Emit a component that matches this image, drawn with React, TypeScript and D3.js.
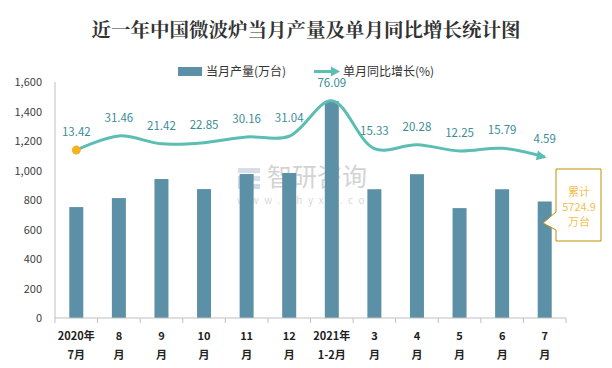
import React from "react";
import * as d3 from "d3";

// categories (two-line x labels)
const labelTop = ["2020年", "8", "9", "10", "11", "12", "2021年", "3", "4", "5", "6", "7"];
const labelBottom = ["7月", "月", "月", "月", "月", "月", "1-2月", "月", "月", "月", "月", "月"];
// 当月产量(万台)
const output = [752, 813, 942, 874, 976, 983, 1470, 873, 975, 745, 873, 790];
// 单月同比增长(%)
const growth = [13.42, 31.46, 21.42, 22.85, 30.16, 31.04, 76.09, 15.33, 20.28, 12.25, 15.79, 4.59];
const yTicks = [0, 200, 400, 600, 800, 1000, 1200, 1400, 1600];

const W = 612;
const H = 368;
const left = 55;
const right = 566;
const top = 82;
const bottom = 318;

const barColor = "#5b90a6";
const lineColor = "#5cbdb3";
const labelColor = "#3b8d98";
const font = "'Noto Sans CJK SC', 'Noto Sans', sans-serif";

export default function App() {
  const cats = labelTop.map((_, i) => String(i));
  const x = d3.scaleBand().domain(cats).range([left, right]).padding(0);
  const y = d3.scaleLinear().domain([0, 1600]).range([bottom, top]);
  const y2 = d3.scaleLinear().domain([-200, 100]).range([bottom, top]);
  const cx = (i: number) => (x(String(i)) as number) + x.bandwidth() / 2;
  const barW = 14;

  const line = d3
    .line<number>()
    .x((_, i) => cx(i))
    .y((d) => y2(d))
    .curve(d3.curveCatmullRom.alpha(0.5));

  const n = growth.length;
  const lx = cx(n - 1);
  const ly = y2(growth[n - 1]);
  // arrow direction from a point just before the end
  const ang = Math.atan2(ly - (y2(growth[n - 2]) * 0.4 + ly * 0.6), lx - (cx(n - 2) * 0.4 + lx * 0.6));

  return (
    <div style={{ margin: -8 }}>
      <svg width={W} height={H} style={{ display: "block", fontFamily: font }}>
        <rect x={0} y={0} width={W} height={H} fill="#fff" />
        <rect x={3.5} y={2.5} width={605} height={360} fill="none" stroke="#bfbfbf" strokeWidth={1} />

        <text x={306} y={37} textAnchor="middle" fontSize={19.5} fontWeight="bold" fill="#333"
          style={{ fontFamily: "'Noto Serif CJK SC', 'Noto Sans CJK SC', serif" }}>
          近一年中国微波炉当月产量及单月同比增长统计图
        </text>

        {/* legend */}
        <rect x={178} y={67} width={24} height={9} fill={barColor} />
        <text x={206} y={75.5} fontSize={12} fill="#333">当月产量(万台)</text>
        <line x1={314} y1={71.5} x2={333} y2={71.5} stroke={lineColor} strokeWidth={3} />
        <path d="M331,66.5 L340,71.5 L331,76.5 Z" fill={lineColor} />
        <text x={343} y={75.5} fontSize={12} fill="#333">单月同比增长(%)</text>

        {/* watermark */}
        <g opacity={0.55}>
          <rect x={238} y={168} width={22} height={5} fill="#b4c4dc" />
          <rect x={238} y={176} width={10} height={13} fill="#a8bcd8" />
          <rect x={252} y={176} width={8} height={5} fill="#b4c4dc" />
          <rect x={250} y={184} width={10} height={5} fill="#a8bcd8" />
          <text x={267} y={186} fontSize={25} fill="#b0b0b0">智研咨询</text>
          <text x={237} y={204} fontSize={10} fill="#b8b8b8" letterSpacing={5.6}>www.chyxx.com</text>
        </g>

        {/* y axis */}
        {yTicks.map((t) => (
          <text key={t} x={42} y={y(t) + 4} textAnchor="end" fontSize={11} fill="#404040">
            {d3.format(",")(t)}
          </text>
        ))}
        <line x1={left} y1={top} x2={left} y2={bottom} stroke="#bfbfbf" />

        {/* bars */}
        {output.map((v, i) => (
          <rect key={i} x={cx(i) - barW / 2} y={y(v)} width={barW} height={bottom - y(v)} fill={barColor} />
        ))}

        {/* x axis */}
        <line x1={left} y1={bottom} x2={right} y2={bottom} stroke="#bfbfbf" />
        {cats.concat([String(n)]).map((c, i) => {
          const px = i < n ? (x(c) as number) : right;
          return <line key={c} x1={px} y1={bottom} x2={px} y2={bottom + 5} stroke="#bfbfbf" />;
        })}
        {labelTop.map((t, i) => (
          <g key={i} fontSize={11} fontWeight="bold" fill="#222" textAnchor="middle">
            <text x={cx(i)} y={340}>{t}</text>
            <text x={cx(i)} y={359}>{labelBottom[i]}</text>
          </g>
        ))}

        {/* growth line */}
        <path d={line(growth) || ""} fill="none" stroke={lineColor} strokeWidth={3} />
        <path
          d="M-8,-5 L2,0 L-8,5 Z"
          fill={lineColor}
          transform={`translate(${lx},${ly}) rotate(${(ang * 180) / Math.PI})`}
        />
        <circle cx={cx(0)} cy={y2(growth[0])} r={4.5} fill="#f5b324" />
        {growth.map((g, i) => (
          <text key={i} x={cx(i)} y={y2(g) - 14} textAnchor="middle" fontSize={11.5} fill={labelColor}>
            {g.toFixed(2)}
          </text>
        ))}

        {/* cumulative callout */}
        <path
          d="M556,169 L601,169 L601,241 L556,241 L556,230 L543,223 L556,212 Z"
          fill="#fff"
          stroke="#bf9000"
          strokeWidth={1}
        />
        <g fontSize={11} fill="#f2c14e" textAnchor="middle">
          <text x={579} y={196}>累计</text>
          <text x={579} y={211}>5724.9</text>
          <text x={579} y={226}>万台</text>
        </g>
      </svg>
    </div>
  );
}
